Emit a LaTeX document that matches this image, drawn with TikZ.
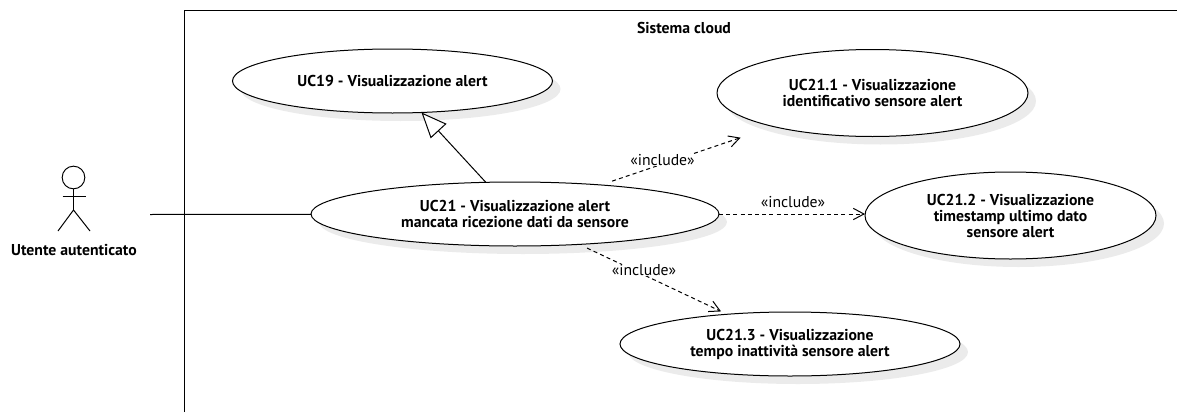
\documentclass[tikz,border=0pt]{standalone}
\usepackage{fontspec}
\setmainfont{PT Sans}
\usetikzlibrary{arrows.meta}
\usetikzlibrary{shapes.geometric}
\usetikzlibrary{shadows}
\tikzset{
  usecase/.style={ellipse, draw=black, fill=white, line width=0.75pt, inner sep=0pt, outer sep=0pt, align=center,
    font=\bfseries\fontsize{11.8}{12}\selectfont,
    general shadow={shadow xshift=6pt, shadow yshift=-6pt, fill=black!8, draw=none}},
  includelabel/.style={fill=white, inner sep=0.5pt, font=\fontsize{11.8}{12}\selectfont},
  includeline/.style={dash pattern=on 3pt off 2.4pt, line width=0.75pt, -{Straight Barb[length=8pt,width=8.5pt]}},
  actorline/.style={line width=0.75pt}
}
\begin{document}
\begin{tikzpicture}[x=0.75pt,y=-0.75pt]
\useasboundingbox (0,0) rectangle (1177,414);
% draws system boundary
\coordinate (framebottom) at (184,412);
\coordinate (frametop) at (184,10);
\coordinate (frameright) at (1177,10);
\draw[actorline] (framebottom) -- (frametop) -- (frameright);
\node[font=\bfseries\fontsize{11.8}{12}\selectfont] (system) at (684,28) {Sistema cloud};
% draws use cases
\node[usecase, minimum width=240pt, minimum height=48pt] (uc19) at (392.5,81) {UC19 - Visualizzazione alert};
\node[usecase, minimum width=233.25pt, minimum height=65.25pt] (uc211) at (872.5,93) {UC21.1 - Visualizzazione\\identificativo sensore alert};
\node[usecase, minimum width=306pt, minimum height=48pt] (uc21) at (515,214) {UC21 - Visualizzazione alert\\mancata ricezione dati da sensore};
\node[usecase, minimum width=218.25pt, minimum height=65.25pt] (uc212) at (1010.5,215.5) {UC21.2 - Visualizzazione\\timestamp ultimo dato\\sensore alert};
\node[usecase, minimum width=255pt, minimum height=48pt] (uc213) at (790,344) {UC21.3 - Visualizzazione\\tempo inattività sensore alert};
% draws actor
\node[circle, draw=black, line width=0.75pt, minimum size=17pt, inner sep=0pt] (head) at (73.5,177.5) {};
\coordinate (hip) at (73.5,210);
\coordinate (armleft) at (62.5,196);
\coordinate (armright) at (85.5,196);
\coordinate (footleft) at (58,231);
\coordinate (footright) at (90,231);
\draw[actorline] (head.south) -- (hip);
\draw[actorline] (armleft) -- (armright);
\draw[actorline] (footleft) -- (hip) -- (footright);
\node[font=\bfseries\fontsize{11.8}{12}\selectfont] (actor) at (74,250) {Utente autenticato};
% draws edges
\coordinate (actorend) at (150,214.5);
\draw[actorline] (actorend) -- (uc21);
\draw[line width=0.75pt, -{Triangle[open,length=19pt,width=16pt,fill=white]}] (uc21) -- (uc19);
\draw[includeline, shorten <=9pt, shorten >=26pt] (uc21) -- (uc211);
\draw[includeline] (uc21.east) -- (uc21.east -| uc212.west);
\draw[includeline, shorten <=6.5pt, shorten >=5pt] (uc21) -- (uc213);
% labels edges
\node[includelabel] (incl1) at (662.5,160) {«include»};
\node[includelabel] (incl2) at (793,202) {«include»};
\node[includelabel] (incl3) at (644,270) {«include»};
\end{tikzpicture}
\end{document}
